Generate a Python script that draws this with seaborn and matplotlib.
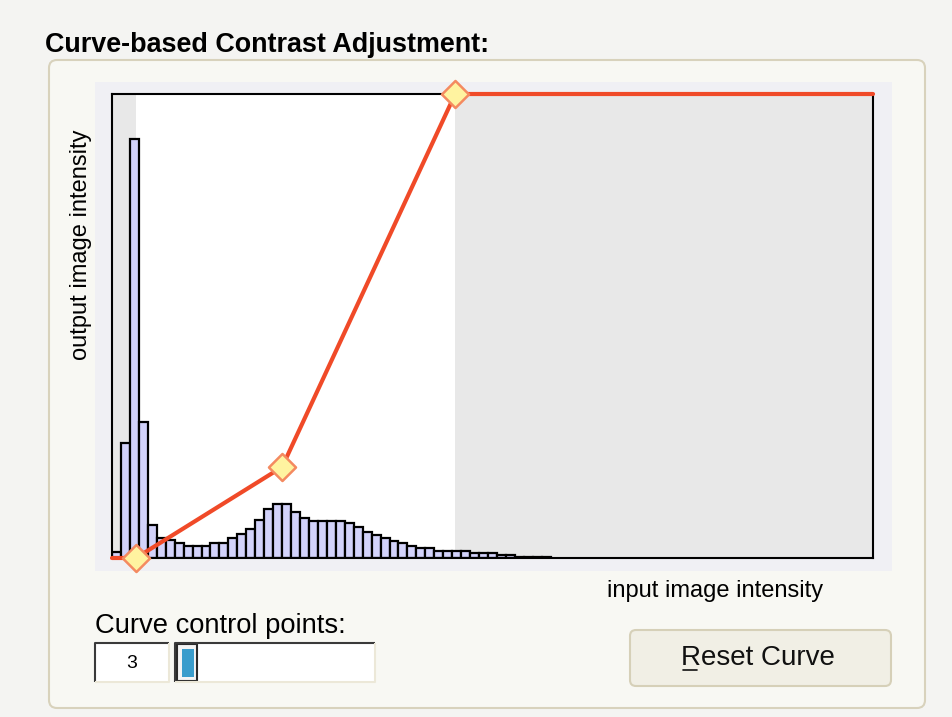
import numpy as np
import pandas as pd
import matplotlib
matplotlib.use("Agg")
import matplotlib.pyplot as plt
from matplotlib.patches import Rectangle, FancyBboxPatch
import seaborn as sns

# histogram of input intensities, bins of width 3 (0..255)
bin_width = 3
hist_counts = [6, 115, 419, 136, 33, 20, 18, 15, 12, 12, 12, 15, 15, 20, 24, 29,
               38, 49, 54, 54, 46, 40, 37, 37, 37, 37, 35, 31, 26, 23, 20, 17,
               15, 12, 10, 10, 7, 7, 7, 7, 5, 5, 5, 3, 3, 1, 1, 1, 1]

# curve control points (input -> output)
ctrl_x = [8, 57, 115]
ctrl_y = [0, 50, 255]
curve_x = [0] + ctrl_x + [255]
curve_y = [0] + ctrl_y + [255]

sns.set_theme(style="white")
plt.rcParams['font.family'] = ['Liberation Sans', 'DejaVu Sans']

W, H = 953, 717
fig = plt.figure(figsize=(W / 100, H / 100), dpi=100)
fig.patch.set_facecolor('#f4f4f2')

# ui layer in pixel coords
ui = fig.add_axes([0, 0, 1, 1], zorder=0)
ui.set_xlim(0, W)
ui.set_ylim(H, 0)
ui.axis('off')

# group box
ui.add_patch(FancyBboxPatch((49, 60), 876, 648, boxstyle="round,pad=0,rounding_size=8",
                            facecolor='#f8f8f3', edgecolor='#d8d2bc', linewidth=1.5))
ui.text(45, 52, "Curve-based Contrast Adjustment:", fontsize=19.4, fontweight='bold',
        ha='left', va='baseline', color='black')

# panel behind the plot
ui.add_patch(Rectangle((95, 82), 797, 489, facecolor='#f0f0f4', edgecolor='none'))

ui.text(81, 245, "output image intensity", fontsize=17, rotation=90,
        ha='center', va='center', color='black')
ui.text(607, 597, "input image intensity", fontsize=17, ha='left', va='baseline', color='black')

# control points widgets
ui.text(95, 633, "Curve control points:", fontsize=19.7, ha='left', va='baseline', color='black')


def sunken_box(x0, y0, x1, y1):
    ui.add_patch(Rectangle((x0, y0), x1 - x0, y1 - y0, facecolor='white', edgecolor='none'))
    ui.plot([x0, x0, x1], [y1, y0, y0], color='#3a3a3a', lw=1.5, solid_capstyle='butt')
    ui.plot([x1, x1, x0], [y0, y1, y1], color='#ece8d8', lw=1.5, solid_capstyle='butt')


sunken_box(95, 643, 169, 682)
ui.text(132, 668, str(len(ctrl_x)), fontsize=14, ha='center', va='baseline', color='black')
sunken_box(175, 643, 375, 682)
ui.add_patch(Rectangle((177, 644), 20, 37, facecolor='#f4f4f4', edgecolor='#2a2a2a', linewidth=1.5))
ui.add_patch(Rectangle((182, 649), 12, 28, facecolor='#3a9dcc', edgecolor='none'))

# reset button
ui.add_patch(FancyBboxPatch((630, 630), 261, 56, boxstyle="round,pad=0,rounding_size=6",
                            facecolor='#f1efe5', edgecolor='#d6d0b8', linewidth=1.5))
ui.text(681, 665, "Reset Curve", fontsize=20, ha='left', va='baseline', color='#111111')
ui.plot([683, 697], [670, 670], color='#111111', lw=1.2)

# main plot
x0, y0, x1, y1 = 112, 94, 873, 558
ax = fig.add_axes([x0 / W, 1 - y1 / H, (x1 - x0) / W, (y1 - y0) / H], zorder=2)
ax.set_facecolor('white')

# clipped (grey) ranges outside the control points
ax.axvspan(0, ctrl_x[0], color='#e8e8e8', lw=0, zorder=0)
ax.axvspan(ctrl_x[-1], 255, color='#e8e8e8', lw=0, zorder=0)

bin_left = np.arange(len(hist_counts)) * bin_width
hist_df = pd.DataFrame({"intensity": bin_left + bin_width / 2, "count": hist_counts})
sns.histplot(data=hist_df, x="intensity", weights="count",
             binwidth=bin_width, binrange=(0, bin_width * len(hist_counts)),
             color='#d2d2fa', edgecolor='black', linewidth=1.6, alpha=1, ax=ax, zorder=1)
ax.set_xlim(0, 255)
ax.set_ylim(0, y1 - y0)
ax.set_xlabel('')
ax.set_ylabel('')
ax.set_xticks([])
ax.set_yticks([])
for s in ax.spines.values():
    s.set_color('black')
    s.set_linewidth(1.5)

ax2 = ax.twinx()
ax2.set_ylim(0, 255)
ax2.set_xlim(0, 255)
sns.lineplot(x=curve_x, y=curve_y, sort=False, color='#f04a28', linewidth=3, ax=ax2)
for ln in ax2.lines:
    ln.set_clip_on(False)
sns.scatterplot(x=ctrl_x, y=ctrl_y, marker='D', s=190, color='#fff3a0',
                edgecolor='#f48a60', linewidth=1.8, ax=ax2, zorder=5)
for c in ax2.collections:
    c.set_clip_on(False)
ax2.set_yticks([])
ax2.set_xticks([])
ax2.set_ylabel('')
for s in ax2.spines.values():
    s.set_visible(False)

fig.savefig("out.png", dpi=100, facecolor=fig.get_facecolor())
